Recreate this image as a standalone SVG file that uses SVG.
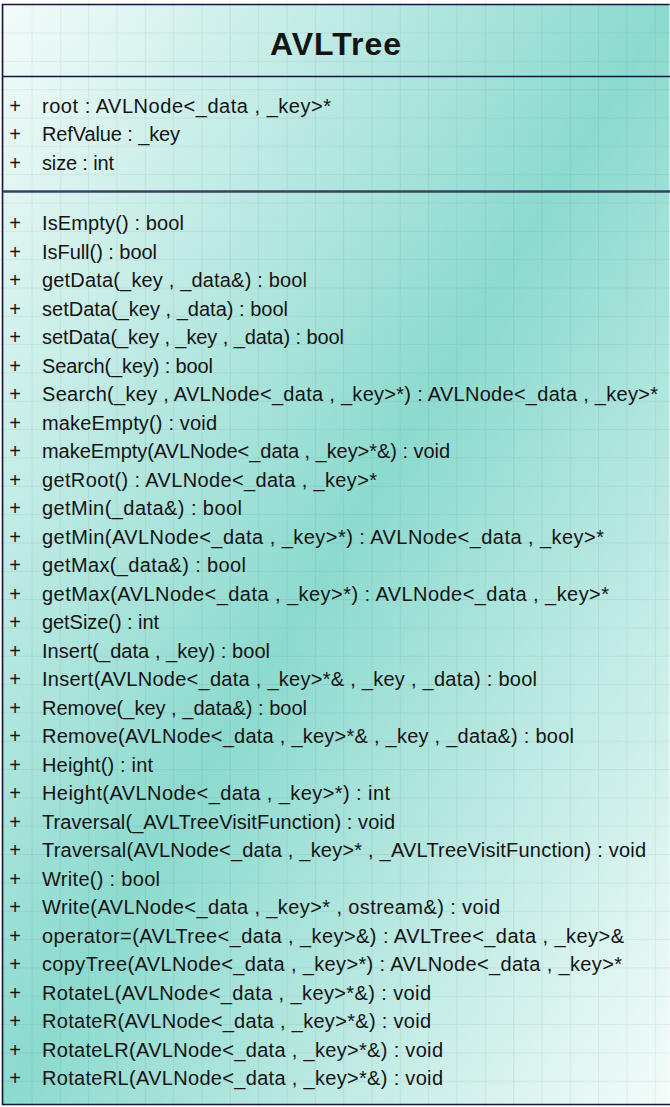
<svg xmlns="http://www.w3.org/2000/svg" width="670" height="1107" viewBox="0 0 670 1107">
<defs>
<linearGradient id="bg" x1="0" y1="0" x2="1" y2="1">
<stop offset="0" stop-color="#f4fcfa"/>
<stop offset="0.5" stop-color="#8cdacf"/>
<stop offset="1" stop-color="#f4fcfa"/>
</linearGradient>
<pattern id="grid" patternUnits="userSpaceOnUse" x="31.5" y="32.5" width="28.33" height="28.33">
<path d="M0.5 0 V28.33 M0 0.5 H28.33" stroke="#000" stroke-opacity="0.06" stroke-width="1" fill="none"/>
</pattern>
<style>
.t{font-family:"Liberation Sans",Arial,sans-serif;font-size:20px;fill:#141414}
.p{font-family:"Liberation Sans",Arial,sans-serif;font-size:20px;fill:#141414;text-anchor:middle}
.ttl{font-family:"Liberation Sans",Arial,sans-serif;font-size:32px;font-weight:bold;fill:#141414;text-anchor:middle}
.b{stroke:#151545;stroke-width:1.6;fill:none}
</style>
</defs>
<rect x="0" y="0" width="670" height="1107" fill="#ffffff"/>
<g id="AVLTree">
<rect x="2.5" y="4.5" width="667" height="1100" fill="url(#bg)"/>
<rect x="0" y="0" width="670" height="1107" fill="url(#grid)"/>
<path class="b" d="M669.5 4.5 H2.5 V1104.5 H670"/>
<line class="b" x1="2.5" y1="76.5" x2="670" y2="76.5"/>
<line x1="2.5" y1="191.5" x2="670" y2="191.5" stroke="#3c4060" stroke-width="2.6"/>
<text class="ttl" x="335.5" y="55" textLength="131">AVLTree</text>
<g id="attributes">
<text class="p" x="15" y="113">+</text><text class="t" x="42" y="113" textLength="289">root : AVLNode&lt;_data , _key&gt;*</text>
<text class="p" x="15" y="141">+</text><text class="t" x="42" y="141" textLength="138">RefValue : _key</text>
<text class="p" x="15" y="169.5">+</text><text class="t" x="42" y="169.5" textLength="72">size : int</text>
</g>
<g id="operations">
<text class="p" x="15" y="230">+</text><text class="t" x="42" y="230" textLength="142">IsEmpty() : bool</text>
<text class="p" x="15" y="258.5">+</text><text class="t" x="42" y="258.5" textLength="115">IsFull() : bool</text>
<text class="p" x="15" y="287">+</text><text class="t" x="42" y="287" textLength="265">getData(_key , _data&amp;) : bool</text>
<text class="p" x="15" y="315.5">+</text><text class="t" x="42" y="315.5" textLength="246">setData(_key , _data) : bool</text>
<text class="p" x="15" y="344">+</text><text class="t" x="42" y="344" textLength="302">setData(_key , _key , _data) : bool</text>
<text class="p" x="15" y="372.5">+</text><text class="t" x="42" y="372.5" textLength="171">Search(_key) : bool</text>
<text class="p" x="15" y="401">+</text><text class="t" x="42" y="401" textLength="616">Search(_key , AVLNode&lt;_data , _key&gt;*) : AVLNode&lt;_data , _key&gt;*</text>
<text class="p" x="15" y="429.5">+</text><text class="t" x="42" y="429.5" textLength="175">makeEmpty() : void</text>
<text class="p" x="15" y="458">+</text><text class="t" x="42" y="458" textLength="408">makeEmpty(AVLNode&lt;_data , _key&gt;*&amp;) : void</text>
<text class="p" x="15" y="486.5">+</text><text class="t" x="42" y="486.5" textLength="335">getRoot() : AVLNode&lt;_data , _key&gt;*</text>
<text class="p" x="15" y="515">+</text><text class="t" x="42" y="515" textLength="200">getMin(_data&amp;) : bool</text>
<text class="p" x="15" y="543.5">+</text><text class="t" x="42" y="543.5" textLength="562">getMin(AVLNode&lt;_data , _key&gt;*) : AVLNode&lt;_data , _key&gt;*</text>
<text class="p" x="15" y="572">+</text><text class="t" x="42" y="572" textLength="204">getMax(_data&amp;) : bool</text>
<text class="p" x="15" y="600.5">+</text><text class="t" x="42" y="600.5" textLength="567">getMax(AVLNode&lt;_data , _key&gt;*) : AVLNode&lt;_data , _key&gt;*</text>
<text class="p" x="15" y="629">+</text><text class="t" x="42" y="629" textLength="117">getSize() : int</text>
<text class="p" x="15" y="657.5">+</text><text class="t" x="42" y="657.5" textLength="228">Insert(_data , _key) : bool</text>
<text class="p" x="15" y="686">+</text><text class="t" x="42" y="686" textLength="495">Insert(AVLNode&lt;_data , _key&gt;*&amp; , _key , _data) : bool</text>
<text class="p" x="15" y="714.5">+</text><text class="t" x="42" y="714.5" textLength="265">Remove(_key , _data&amp;) : bool</text>
<text class="p" x="15" y="743">+</text><text class="t" x="42" y="743" textLength="532">Remove(AVLNode&lt;_data , _key&gt;*&amp; , _key , _data&amp;) : bool</text>
<text class="p" x="15" y="771.5">+</text><text class="t" x="42" y="771.5" textLength="111">Height() : int</text>
<text class="p" x="15" y="800">+</text><text class="t" x="42" y="800" textLength="348">Height(AVLNode&lt;_data , _key&gt;*) : int</text>
<text class="p" x="15" y="828.5">+</text><text class="t" x="42" y="828.5" textLength="353">Traversal(_AVLTreeVisitFunction) : void</text>
<text class="p" x="15" y="857">+</text><text class="t" x="42" y="857" textLength="604">Traversal(AVLNode&lt;_data , _key&gt;* , _AVLTreeVisitFunction) : void</text>
<text class="p" x="15" y="885.5">+</text><text class="t" x="42" y="885.5" textLength="118">Write() : bool</text>
<text class="p" x="15" y="914">+</text><text class="t" x="42" y="914" textLength="458">Write(AVLNode&lt;_data , _key&gt;* , ostream&amp;) : void</text>
<text class="p" x="15" y="942.5">+</text><text class="t" x="42" y="942.5" textLength="582">operator=(AVLTree&lt;_data , _key&gt;&amp;) : AVLTree&lt;_data , _key&gt;&amp;</text>
<text class="p" x="15" y="971">+</text><text class="t" x="42" y="971" textLength="580">copyTree(AVLNode&lt;_data , _key&gt;*) : AVLNode&lt;_data , _key&gt;*</text>
<text class="p" x="15" y="999.5">+</text><text class="t" x="42" y="999.5" textLength="389">RotateL(AVLNode&lt;_data , _key&gt;*&amp;) : void</text>
<text class="p" x="15" y="1028">+</text><text class="t" x="42" y="1028" textLength="389">RotateR(AVLNode&lt;_data , _key&gt;*&amp;) : void</text>
<text class="p" x="15" y="1056.5">+</text><text class="t" x="42" y="1056.5" textLength="401">RotateLR(AVLNode&lt;_data , _key&gt;*&amp;) : void</text>
<text class="p" x="15" y="1085">+</text><text class="t" x="42" y="1085" textLength="401">RotateRL(AVLNode&lt;_data , _key&gt;*&amp;) : void</text>
</g>
</g>
<g id="connectors"></g>
</svg>
